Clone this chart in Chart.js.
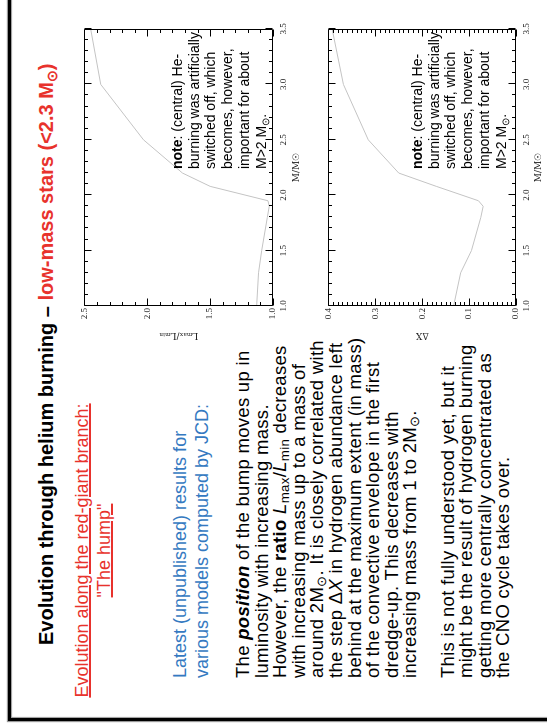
<!DOCTYPE html>
<html>
<head>
<meta charset="utf-8">
<script src="https://cdn.jsdelivr.net/npm/chart.js@4.4.1/dist/chart.umd.min.js"></script>
<style>
  html, body { margin: 0; padding: 0; background: #fff; width: 547px; height: 726px; overflow: hidden; }
  /* the slide is laid out landscape and turned a quarter turn */
  #slide {
    position: absolute; left: 0; top: 0; width: 726px; height: 547px;
    transform-origin: 0 0; transform: translate(0, 726px) rotate(-90deg);
    overflow: hidden; background: #fff; color: #000;
    font-family: "Liberation Sans", Arial, sans-serif;
  }
  .frame {
    position: absolute; left: 5px; top: 8px; width: 900px; height: 700px;
    border: 3px solid #000; box-shadow: 0 0 1px 1px #999, inset 0 0 1px 1px #999;
  }
  .abs { position: absolute; white-space: nowrap; }
  sub { font-size: 0.72em; vertical-align: -0.25em; line-height: 0; }
  .red { color: #e8322c; }
  .blue { color: #3479c1; }
  #title { left: 81px; top: 34px; font-size: 20px; font-weight: bold; line-height: 24px; }
  #sub { left: 0; width: 351px; top: 71px; font-size: 18px; line-height: 22px; text-align: center; text-decoration: underline; text-decoration-thickness: 2px; }
  #latest { left: 48px; top: 169px; font-size: 18px; line-height: 22px; }
  #body { left: 48px; top: 234px; font-size: 18.5px; letter-spacing: 0.3px; line-height: 18.6px; }
  .note { font-size: 14px; line-height: 16.7px; }
  .chartbox { position: absolute; }
</style>
</head>
<body>
<div id="slide">
  <div class="frame"></div>

  <div id="title" class="abs">Evolution through helium burning – <span class="red">low-mass stars (&lt;2.3 M<sub>⊙</sub>)</span></div>

  <div id="sub" class="abs red">Evolution along the red-giant branch:<br>"The hump"</div>

  <div id="latest" class="abs blue">Latest (unpublished) results for<br>various models computed by JCD:</div>

  <div id="body" class="abs">The <b><i>position</i></b> of the bump moves up in<br>luminosity with increasing mass.<br>However, the <b>ratio</b> <i>L</i><sub>max</sub>/<i>L</i><sub>min</sub> decreases<br>with increasing mass up to a mass of<br>around 2M<sub>⊙</sub>. It is closely correlated with<br>the step Δ<i>X</i> in hydrogen abundance left<br>behind at the maximum extent (in mass)<br>of the convective envelope in the first<br>dredge-up. This decreases with<br>increasing mass from 1 to 2M<sub>⊙</sub>.<br><br>This is not fully understood yet, but it<br>might be the result of hydrogen burning<br>getting more centrally concentrated as<br>the CNO cycle takes over.</div>

  <div class="chartbox" style="left:380px; top:77px; width:330px; height:231px;"><canvas id="ratioChart"></canvas></div>
  <div class="chartbox" style="left:380px; top:321px; width:330px; height:231px;"><canvas id="deltaChart"></canvas></div>

  <div class="abs note" style="left:557px; top:169px;"><b>note</b>: (central) He-<br>burning was artificially<br>switched off, which<br>becomes, however,<br>important for about<br>M&gt;2 M<sub>⊙</sub>.</div>
  <div class="abs note" style="left:557px; top:409px;"><b>note</b>: (central) He-<br>burning was artificially<br>switched off, which<br>becomes, however,<br>important for about<br>M&gt;2 M<sub>⊙</sub>.</div>
</div>

<script>
// stellar masses of the model sequence (M / Msun)
const stellarMass = [1.0, 1.3, 1.5, 1.8, 1.9, 1.95, 2.08, 2.2, 2.5, 3.0, 3.5];
// luminosity ratio across the bump, L_max / L_min
const lumRatio = [1.13, 1.115, 1.09, 1.045, 1.03, 1.04, 1.50, 1.72, 2.03, 2.37, 2.45];
// hydrogen-abundance step left by the first dredge-up
const deltaX = [0.133, 0.118, 0.095, 0.075, 0.070, 0.080, 0.170, 0.250, 0.315, 0.368, 0.392];

// labelled tick values
const massTicks = [1.0, 1.5, 2.0, 2.5, 3.0, 3.5];
const ratioTicks = [1.0, 1.5, 2.0, 2.5];
const deltaXTicks = [0.0, 0.1, 0.2, 0.3, 0.4];

const tickFont = { family: '"Liberation Serif", "DejaVu Serif", serif', size: 9 };
const titleFont = { family: '"DejaVu Serif", serif', size: 9 };

// closed frame with inward-pointing major and minor ticks on all four sides
const frameTicks = {
  id: 'frameTicks',
  afterDatasetsDraw(chart, args, o) {
    const { ctx, chartArea: a, scales: { x, y } } = chart;
    const L = Math.round(a.left) + 0.5, R = Math.round(a.right) - 0.5;
    const T = Math.round(a.top) + 0.5, B = Math.round(a.bottom) - 0.5;
    const isMajor = (v, list) => list.some(m => Math.abs(m - v) < 1e-6);
    ctx.save();
    ctx.strokeStyle = '#000';
    ctx.lineWidth = 1;
    ctx.beginPath();
    ctx.rect(L, T, R - L, B - T);
    const nx = Math.round((x.max - x.min) / o.xMinor);
    for (let i = 0; i <= nx; i++) {
      const v = x.min + i * o.xMinor;
      const p = Math.round(x.getPixelForValue(v)) + 0.5;
      const len = isMajor(v, o.xMajor) ? 7 : 3.5;
      ctx.moveTo(p, B); ctx.lineTo(p, B - len);
      ctx.moveTo(p, T); ctx.lineTo(p, T + len);
    }
    const ny = Math.round((y.max - y.min) / o.yMinor);
    for (let i = 0; i <= ny; i++) {
      const v = y.min + i * o.yMinor;
      const p = Math.round(y.getPixelForValue(v)) + 0.5;
      const len = isMajor(v, o.yMajor) ? 7 : 3.5;
      ctx.moveTo(L, p); ctx.lineTo(L + len, p);
      ctx.moveTo(R, p); ctx.lineTo(R - len, p);
    }
    ctx.stroke();
    ctx.restore();
  }
};

function makeChart(id, values, yMin, yMax, yTicks, yMinor, yTitle, xAxisHeight, xTitlePad) {
  return new Chart(document.getElementById(id), {
    type: 'scatter',
    data: {
      datasets: [{
        data: stellarMass.map((m, i) => ({ x: m, y: values[i] })),
        showLine: true,
        borderColor: '#c4c4c4',
        borderWidth: 1,
        pointRadius: 0,
        tension: 0
      }]
    },
    options: {
      responsive: true,
      maintainAspectRatio: false,
      animation: false,
      events: [],
      layout: { padding: { left: 0, top: 6, right: 13, bottom: 0 } },
      plugins: {
        legend: { display: false },
        tooltip: { enabled: false },
        frameTicks: { xMinor: 0.1, yMinor: yMinor, xMajor: massTicks, yMajor: yTicks }
      },
      scales: {
        x: {
          type: 'linear', min: 1.0, max: 3.5,
          grid: { display: false, drawTicks: false },
          border: { display: false },
          afterBuildTicks: s => { s.ticks = massTicks.map(v => ({ value: v })); },
          afterFit: s => { s.height = xAxisHeight; },
          ticks: { font: tickFont, color: '#222', padding: 5, maxRotation: 0, autoSkip: false,
                   callback: v => Number(v).toFixed(1) },
          title: { display: true, text: 'M/M☉', font: titleFont, color: '#222',
                   padding: { top: 0, bottom: xTitlePad } }
        },
        y: {
          type: 'linear', min: yMin, max: yMax,
          grid: { display: false, drawTicks: false },
          border: { display: false },
          afterBuildTicks: s => { s.ticks = yTicks.map(v => ({ value: v })); },
          afterFit: s => { s.width = 40; },
          ticks: { font: tickFont, color: '#222', padding: 2, autoSkip: false,
                   callback: v => Number(v).toFixed(1) },
          title: { display: true, text: yTitle, font: titleFont, color: '#222',
                   padding: { top: 5, bottom: 0 } }
        }
      }
    },
    plugins: [frameTicks]
  });
}

makeChart('ratioChart', lumRatio, 1.0, 2.5, ratioTicks, 0.1, 'Lₘₐₓ/Lₘᵢₙ', 35, 6);
makeChart('deltaChart', deltaX, 0.0, 0.4, deltaXTicks, 0.01, 'ΔX', 36, 8);
</script>
</body>
</html>
